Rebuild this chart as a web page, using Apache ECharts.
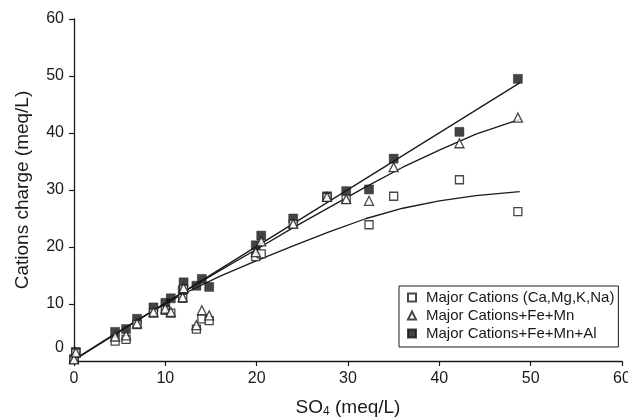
<!DOCTYPE html>
<html>
<head>
<meta charset="utf-8">
<script src="https://cdn.jsdelivr.net/npm/echarts@6/dist/echarts.min.js"></script>
<style>html,body{margin:0;padding:0;background:#fff}#c{width:628px;height:419px}</style>
</head>
<body>
<div id="c"></div>
<script>
// SO4 (meq/L) per sample
const so4 = [0, 0.2, 4.5, 5.7, 6.9, 8.7, 10.0, 10.6, 11.9, 12.0, 13.4, 14.0, 14.8, 19.9, 20.5, 24.0, 27.7, 29.8, 32.3, 35.0, 42.2, 48.6];
// Cations charge (meq/L)
const majorCations = [0.3, 1.4, 3.5, 3.8, 6.4, 8.4, 8.9, 8.4, 11.0, 12.6, 5.6, 7.4, 7.1, 18.3, 18.8, 24.0, 28.7, 28.4, 23.9, 28.9, 31.8, 26.2];
const plusFeMn = [0.3, 1.5, 4.3, 4.5, 6.6, 8.6, 9.2, 8.6, 11.2, 12.8, 6.3, 8.9, 8.0, 19.1, 21.0, 24.1, 28.8, 28.4, 28.1, 34.0, 38.2, 42.7];
const plusFeMnAl = [0.3, 1.6, 5.1, 5.6, 7.4, 9.4, 10.2, 11.0, 12.4, 13.8, 13.2, 14.4, 13.0, 20.3, 22.0, 25.0, 28.9, 29.8, 30.1, 35.5, 40.2, 49.5];
// Trend lines
const fitX = [0, 4, 8, 12, 16, 20, 24, 28, 32, 36, 40, 44, 48.8];
const fitMajor = [0.2, 4.3, 8.2, 11.8, 14.9, 17.6, 20.2, 22.7, 25.0, 26.8, 28.1, 29.0, 29.7];
const fitFeMn = [0.2, 4.2, 8.2, 12.1, 15.9, 19.6, 23.4, 27.0, 30.6, 34.0, 37.0, 39.8, 42.4];
const fitAlX = [0, 48.8];
const fitAl = [0.2, 48.8];
const xTicks = [0, 10, 20, 30, 40, 50, 60];
const yTicks = [0, 10, 20, 30, 40, 50, 60];
const names = ['Major Cations (Ca,Mg,K,Na)', 'Major Cations+Fe+Mn', 'Major Cations+Fe+Mn+Al'];

const pair = (xs, ys) => xs.map((x, i) => [x, ys[i]]);
const ink = '#1a1a1a';
const font = 'Liberation Sans, Arial, sans-serif';

const chart = echarts.init(document.getElementById('c'), null, {renderer: 'canvas'});
const lineStyle = {color: ink, width: 1.3};
chart.setOption({
  animation: false,
  textStyle: {fontFamily: font, color: ink},
  grid: {left: 74, right: 6, top: 19, bottom: 58, outerBoundsMode: 'none', containLabel: false},
  xAxis: {
    type: 'value', min: xTicks[0], max: xTicks[xTicks.length - 1], interval: 10,
    splitLine: {show: false},
    axisLine: {lineStyle: {color: ink, width: 1.3}},
    axisTick: {length: 5, lineStyle: {color: ink, width: 1.2}},
    axisLabel: {fontSize: 16, color: ink, margin: 10, fontFamily: font},
    name: '{a|SO}{s|4}{a| (meq/L)}', nameLocation: 'middle', nameGap: 36,
    nameTextStyle: {rich: {a: {fontSize: 19, color: ink, fontFamily: font}, s: {fontSize: 12, color: ink, fontFamily: font, padding: [9, 0, 0, 0]}}}
  },
  yAxis: {
    type: 'value', min: yTicks[0], max: yTicks[yTicks.length - 1], interval: 10,
    splitLine: {show: false},
    axisLine: {lineStyle: {color: ink, width: 1.3}},
    axisTick: {length: 5, lineStyle: {color: ink, width: 1.2}},
    axisLabel: {
      fontSize: 16, color: ink, margin: 10, fontFamily: font,
      formatter: v => v === 0 ? '{z|0}' : String(v),
      rich: {z: {fontSize: 16, color: ink, fontFamily: font, padding: [0, 0, 26, 0]}}
    },
    name: 'Cations charge (meq/L)', nameLocation: 'middle', nameGap: 42,
    nameTextStyle: {fontSize: 19, color: ink, fontFamily: font}
  },
  legend: {
    orient: 'vertical', left: 399, top: 286,
    data: [names[0], names[1], names[2]],
    borderColor: ink, borderWidth: 1, borderRadius: 0,
    padding: [4, 4, 6, 8], itemGap: 3, itemWidth: 8, itemHeight: 8,
    textStyle: {fontSize: 15, color: ink, fontFamily: font, padding: [0, 0, 0, 5]}
  },
  series: [
    {type: 'line', data: pair(fitAlX, fitAl), showSymbol: false, symbol: 'none', lineStyle, z: 1, silent: true},
    {type: 'line', data: pair(fitX, fitFeMn), showSymbol: false, symbol: 'none', lineStyle, z: 1, silent: true},
    {type: 'line', data: pair(fitX, fitMajor), showSymbol: false, symbol: 'none', lineStyle, z: 1, silent: true},
    {name: names[2], type: 'scatter', data: pair(so4, plusFeMnAl), symbol: 'rect', symbolSize: 9,
     itemStyle: {color: '#151515', borderColor: '#151515', borderWidth: 0.5}, z: 2},
    {name: names[0], type: 'scatter', data: pair(so4, majorCations), symbol: 'rect', symbolSize: 8,
     itemStyle: {color: '#fff', borderColor: ink, borderWidth: 1.3}, z: 3},
    {name: names[1], type: 'scatter', data: pair(so4, plusFeMn), symbol: 'triangle', symbolSize: 9,
     itemStyle: {color: '#fff', borderColor: ink, borderWidth: 1.3}, z: 4}
  ]
});
</script>
</body>
</html>
